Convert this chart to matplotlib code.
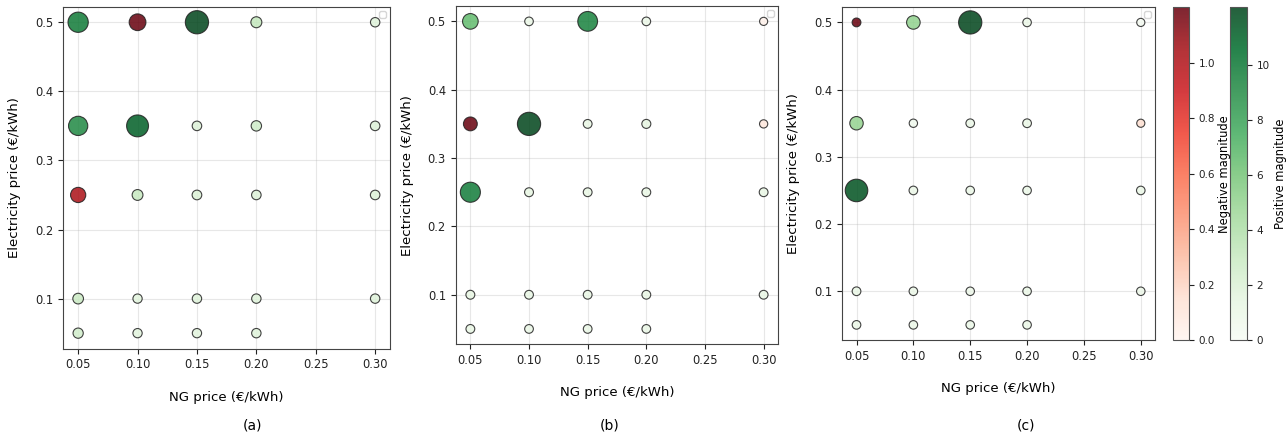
import matplotlib
matplotlib.use("Agg")
import matplotlib.pyplot as plt
import numpy as np
from matplotlib import cm, colors

# grid of price combinations (same for all three cases)
ng_price = [0.05, 0.10, 0.15, 0.20, 0.30,
            0.05, 0.10, 0.15, 0.20, 0.30,
            0.05, 0.10, 0.15, 0.20, 0.30,
            0.05, 0.10, 0.15, 0.20, 0.30,
            0.05, 0.10, 0.15, 0.20]
el_price = [0.5, 0.5, 0.5, 0.5, 0.5,
            0.35, 0.35, 0.35, 0.35, 0.35,
            0.25, 0.25, 0.25, 0.25, 0.25,
            0.1, 0.1, 0.1, 0.1, 0.1,
            0.05, 0.05, 0.05, 0.05]

# signed magnitudes, estimated from the figure
vals_a = [8.2, -6.1, 10.0, 2.6, 1.5,
          7.6, 9.2, 1.6, 2.2, 1.6,
          -5.2, 2.5, 1.7, 1.6, 1.6,
          2.4, 1.4, 1.5, 1.5, 1.5,
          2.1, 1.4, 1.4, 1.5]
vals_b = [6.0, 0.9, 8.7, 0.9, -0.1,
          -4.8, 11.0, 1.1, 1.3, -0.4,
          8.9, 1.2, 1.1, 1.1, 1.1,
          1.2, 1.1, 1.1, 1.1, 1.1,
          1.1, 1.0, 1.0, 1.0]
vals_c = [-1.2, 5.1, 12.1, 0.9, 0.2,
          5.0, 0.6, 1.0, 1.1, -0.15,
          11.6, 1.0, 0.9, 0.9, 0.9,
          1.1, 0.9, 0.8, 0.9, 0.8,
          1.0, 0.9, 0.9, 0.9]

panel_tags = ["(a)", "(b)", "(c)"]
xticks = [0.05, 0.10, 0.15, 0.20, 0.25, 0.30]
yticks = [0.1, 0.2, 0.3, 0.4, 0.5]

W, H = 1286, 436
fig = plt.figure(figsize=(W / 100, H / 100), dpi=100)


def px_axes(l, t, r, b):
    return fig.add_axes([l / W, 1 - b / H, (r - l) / W, (b - t) / H])


boxes = [(63.3, 6.7, 390, 348.7), (455.7, 6, 778.3, 344.3), (842.3, 7.3, 1155, 340)]
tag_x = [252, 610, 1026]
ALPHA = 0.85

x = np.array(ng_price)
y = np.array(el_price)
for vals, box, tag, tx in zip([vals_a, vals_b, vals_c], boxes, panel_tags, tag_x):
    ax = px_axes(*box)
    v = np.array(vals)
    mag = np.abs(v)
    pos_max = v[v > 0].max()
    neg_max = mag[v < 0].max()
    n_pos = colors.Normalize(0, pos_max)
    n_neg = colors.Normalize(0, neg_max)
    cols = [cm.Greens(n_pos(m)) if val >= 0 else cm.Reds(n_neg(m)) for val, m in zip(v, mag)]
    sizes = 34 + 245 * (mag / mag.max()) ** 1.6
    ax.scatter(x, y, s=sizes, c=cols, alpha=ALPHA, edgecolors="#222222", linewidths=0.8, zorder=3)
    ax.grid(True, alpha=0.3)
    ax.set_axisbelow(True)
    ax.set_xticks(xticks)
    ax.set_yticks(yticks)
    ax.tick_params(labelsize=8.3, colors="#222222")
    for s in ax.spines.values():
        s.set_color("#444444")
    ax.set_xlabel("NG price (€/kWh)", fontsize=9.5, labelpad=14)
    ax.set_ylabel("Electricity price (€/kWh)", fontsize=9.5, labelpad=10)
    ax.legend(handles=[], loc="upper right", fontsize=6)
    fig.text(tx / W, 1 - 425 / H, tag, ha="center", va="center", fontsize=10)

# colorbars follow the last case
v = np.array(vals_c)
sm_neg = cm.ScalarMappable(norm=colors.Normalize(0, np.abs(v[v < 0]).max()), cmap="Reds")
sm_pos = cm.ScalarMappable(norm=colors.Normalize(0, v[v > 0].max()), cmap="Greens")

cax1 = px_axes(1172.7, 7.3, 1188.7, 340)
cb1 = fig.colorbar(sm_neg, cax=cax1, alpha=ALPHA)
cb1.set_ticks([0.0, 0.2, 0.4, 0.6, 0.8, 1.0])
cb1.set_label("Negative magnitude", fontsize=8.3, labelpad=2)
cax2 = px_axes(1230, 7.3, 1247, 340)
cb2 = fig.colorbar(sm_pos, cax=cax2, alpha=ALPHA)
cb2.set_ticks([0, 2, 4, 6, 8, 10])
cb2.set_label("Positive magnitude", fontsize=8.3, labelpad=3)
for cb in (cb1, cb2):
    cb.ax.tick_params(labelsize=7.5, colors="#222222")
    cb.outline.set_edgecolor("#555555")

fig.savefig("out.png", dpi=100)
